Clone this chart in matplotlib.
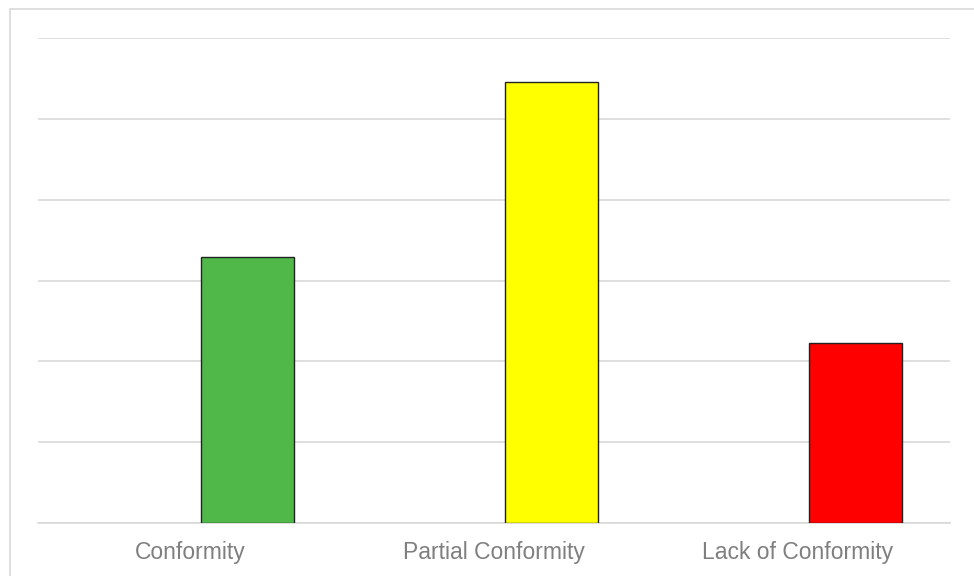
import matplotlib.pyplot as plt

categories = ['Conformity', 'Partial Conformity', 'Lack of Conformity']
values = [3.29, 5.45, 2.23]
colors = ['#50B848', '#FFFF00', '#FF0000']

W, H = 974, 576
fig = plt.figure(figsize=(W / 100, H / 100), dpi=100)

# light frame around the chart area
fig.patches.append(plt.Rectangle((10 / W, -0.1), 1.2, 1 - 9 / H + 0.1,
                                 transform=fig.transFigure, fill=False,
                                 edgecolor='#D9D9D9', linewidth=1.2))

ax = fig.add_axes([38 / W, 1 - 523 / H, (950 - 38) / W, (523 - 38) / H])

x = list(range(len(categories)))
ax.bar([i + 0.19 for i in x], values, width=0.306, color=colors,
       edgecolor='#222222', linewidth=1.0, zorder=3)

ax.set_xlim(-0.5, 2.5)
ax.set_ylim(0, 6)
ax.set_yticks(range(0, 7))
ax.yaxis.grid(True, color='#D9D9D9', linewidth=1.2)
ax.tick_params(axis='y', left=False, labelleft=False)
ax.set_xticks(x)
ax.set_xticklabels(categories, fontsize=16.5, color='#7F7F7F',
                   fontfamily='Liberation Sans')
ax.tick_params(axis='x', length=0, pad=13)
for s in ['left', 'right', 'top']:
    ax.spines[s].set_visible(False)
ax.spines['bottom'].set_color('#D9D9D9')
ax.spines['bottom'].set_linewidth(1.2)

fig.savefig('out.png', dpi=100)
